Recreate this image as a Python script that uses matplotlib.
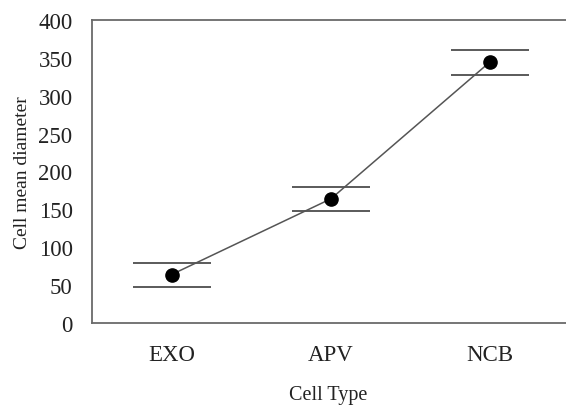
import matplotlib.pyplot as plt

# values
cell_types = ['EXO', 'APV', 'NCB']
mean_diameter = [64, 164, 345]
upper_bound = [79, 179, 360]
lower_bound = [48, 148, 328]
y_ticks = [0, 50, 100, 150, 200, 250, 300, 350, 400]

plt.rcParams['font.family'] = ['Liberation Serif', 'DejaVu Serif']

fig = plt.figure(figsize=(5.66, 4.06), dpi=100)
W, H = 566, 406
ax = fig.add_axes([92 / W, 1 - 324 / H, (566 - 92) / W, (324 - 21) / H])

x = list(range(len(cell_types)))
ax.plot(x, mean_diameter, color='#555555', lw=1.1, zorder=2)
ax.plot(x, mean_diameter, 'o', color='black', ms=9.5, zorder=3)

# upper and lower bars drawn as flat lines
half = 0.245
for xi, up, lo in zip(x, upper_bound, lower_bound):
    ax.hlines([up, lo], xi - half, xi + half, color='#5a5a5a', lw=1.4, zorder=1)

ax.set_xlim(-0.5, 2.475)
ax.set_ylim(0, 400)
ax.set_xticks(x)
ax.set_xticklabels(cell_types)
ax.set_yticks(y_ticks)
ax.tick_params(axis='both', length=0, labelsize=16.5, colors='#222222')
ax.tick_params(axis='y', pad=14)
ax.tick_params(axis='x', pad=15)

for side in ['left', 'bottom', 'top']:
    ax.spines[side].set_color('#6a6a6a')
    ax.spines[side].set_linewidth(1.3)
ax.spines['right'].set_visible(False)

ax.set_ylabel('Cell mean diameter', fontsize=14, color='#222222')
ax.yaxis.set_label_coords(-61 / 474, 0.5)
ax.set_xlabel('Cell Type', fontsize=14.5, color='#222222')
ax.xaxis.set_label_coords((328 - 92) / 474, -62 / 303)

fig.savefig('out.png', dpi=100)
